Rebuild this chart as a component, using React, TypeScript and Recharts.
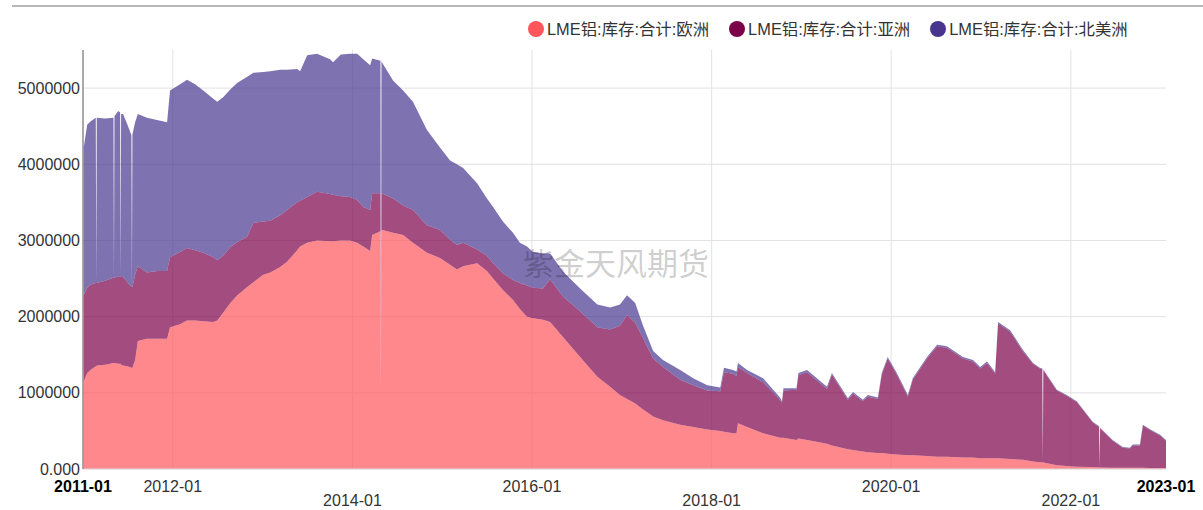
import React from 'react';
import { AreaChart, Area, XAxis, YAxis, CartesianGrid } from 'recharts';

const dates: string[] = [
  '2011-01-04','2011-01-18','2011-01-31','2011-02-22','2011-02-24','2011-02-26','2011-04-01','2011-05-05','2011-05-07','2011-05-09',
  '2011-05-24','2011-06-01','2011-06-03','2011-06-05','2011-06-13','2011-07-01','2011-07-17','2011-07-19','2011-07-21','2011-08-01',
  '2011-08-12','2011-09-18','2011-10-29','2011-12-09','2011-12-21','2012-01-31','2012-02-28','2012-04-01','2012-05-04','2012-06-14',
  '2012-06-30','2012-07-24','2012-08-22','2012-09-20','2012-10-30','2012-11-24','2013-01-03','2013-02-01','2013-03-13','2013-04-10',
  '2013-05-21','2013-06-02','2013-07-01','2013-08-10','2013-10-02','2013-10-14','2013-11-15','2013-12-22','2014-01-20','2014-02-14',
  '2014-03-14','2014-03-22','2014-04-25','2014-04-27','2014-04-29','2014-06-15','2014-07-26','2014-09-04','2014-10-31','2014-12-23',
  '2015-02-02','2015-03-02','2015-03-27','2015-05-23','2015-07-02','2015-07-27','2015-09-05','2015-10-16','2015-11-13','2015-12-12',
  '2016-01-05','2016-02-15','2016-03-15','2016-05-07','2016-07-15','2016-09-23','2016-11-14','2016-12-24','2017-01-22','2017-02-24',
  '2017-03-28','2017-05-08','2017-06-17','2017-08-26','2017-10-18','2017-12-14','2018-02-05','2018-02-20','2018-03-29','2018-04-12',
  '2018-04-18','2018-05-25','2018-07-29','2018-10-06','2018-10-14','2018-10-20','2018-12-12','2018-12-20','2019-01-24','2019-04-15',
  '2019-05-05','2019-07-09','2019-07-30','2019-09-08','2019-09-28','2019-11-08','2019-11-24','2019-12-18','2020-01-24','2020-03-09',
  '2020-03-29','2020-05-26','2020-07-06','2020-08-15','2020-10-19','2020-11-29','2020-12-28','2021-01-25','2021-02-27','2021-03-11',
  '2021-04-29','2021-06-21','2021-07-31','2021-08-28','2021-09-07','2021-09-09','2021-09-11','2021-11-05','2021-12-15','2022-01-25',
  '2022-03-31','2022-04-26','2022-04-28','2022-04-30','2022-06-20','2022-07-31','2022-08-29','2022-09-10','2022-10-09','2022-10-21',
  '2022-11-19','2022-12-30','2023-01-23',
];

const europe: number[] = [
  1150000,1260000,1300000,1350000,1350000,1360000,1370000,1390000,1390000,1390000,
  1380000,1380000,1380000,1370000,1360000,1350000,1330000,1330000,1330000,1430000,
  1680000,1710000,1710000,1710000,1860000,1900000,1950000,1950000,1940000,1930000,
  1950000,2050000,2180000,2280000,2390000,2450000,2550000,2580000,2650000,2720000,
  2870000,2920000,2970000,3000000,2990000,2990000,3000000,3000000,2970000,2920000,
  2860000,3070000,3120000,1060000,3140000,3100000,3070000,2970000,2840000,2770000,
  2680000,2620000,2660000,2700000,2600000,2500000,2350000,2220000,2100000,2000000,
  1980000,1960000,1930000,1730000,1470000,1210000,1080000,970000,920000,860000,
  780000,690000,640000,580000,550000,520000,500000,490000,470000,470000,
  600000,550000,470000,410000,410000,410000,380000,400000,380000,330000,
  310000,260000,250000,230000,220000,210000,210000,200000,190000,180000,
  180000,170000,160000,160000,150000,150000,140000,140000,140000,140000,
  130000,120000,100000,90000,90000,90000,85000,50000,40000,30000,
  25000,20000,20000,20000,15000,15000,15000,15000,15000,15000,
  12000,10000,10000,
];

const asia: number[] = [
  1130000,1120000,1120000,1090000,1090000,1080000,1100000,1120000,1120000,1120000,
  1150000,1150000,1150000,1150000,1160000,1100000,1060000,1060000,1060000,1120000,
  980000,870000,890000,890000,920000,950000,950000,920000,900000,850000,
  790000,750000,730000,700000,660000,780000,700000,680000,680000,680000,
  630000,600000,600000,640000,620000,610000,580000,570000,560000,520000,
  540000,550000,500000,0,480000,450000,390000,430000,360000,370000,
  330000,320000,310000,180000,200000,200000,220000,260000,340000,410000,
  400000,410000,560000,530000,600000,650000,750000,910000,1100000,1060000,
  940000,760000,700000,590000,550000,510000,520000,780000,780000,750000,
  740000,710000,670000,500000,460000,620000,660000,830000,890000,720000,
  930000,650000,740000,660000,730000,710000,1030000,1250000,1050000,770000,
  990000,1280000,1450000,1430000,1300000,1260000,1180000,1250000,1110000,1770000,
  1670000,1420000,1280000,1230000,1220000,0,1210000,980000,920000,850000,
  585000,530000,0,510000,355000,265000,255000,295000,295000,555000,
  500000,430000,360000,
];

const northAmerica: number[] = [
  1940000,2140000,2140000,2170000,0,2170000,2130000,2100000,0,2120000,
  2170000,2150000,0,2140000,2140000,2070000,1990000,0,2000000,2000000,
  2000000,2030000,1980000,1950000,2190000,2200000,2210000,2180000,2130000,2080000,
  2080000,2080000,2070000,2090000,2100000,1970000,1960000,1960000,1910000,1840000,
  1750000,1700000,1860000,1810000,1770000,1740000,1860000,1880000,1920000,1940000,
  1900000,1770000,1740000,0,1730000,1550000,1510000,1420000,1250000,1080000,
  1040000,1060000,980000,870000,750000,740000,680000,620000,530000,510000,
  470000,460000,340000,330000,300000,300000,290000,280000,260000,260000,
  160000,100000,90000,130000,90000,70000,50000,60000,50000,60000,
  50000,40000,50000,30000,20000,30000,20000,30000,30000,30000,
  20000,20000,20000,20000,20000,20000,20000,20000,20000,20000,
  20000,20000,20000,20000,20000,20000,20000,20000,20000,20000,
  20000,20000,10000,10000,10000,0,10000,10000,10000,10000,
  10000,10000,0,10000,10000,10000,10000,10000,10000,10000,
  10000,10000,10000,
];

const seriesNames: string[] = ['LME铝:库存:合计:欧洲', 'LME铝:库存:合计:亚洲', 'LME铝:库存:合计:北美洲'];
const seriesKeys: string[] = ['eu', 'as', 'na'];
const seriesColors: string[] = ['#FF565C', '#7B0048', '#48368E'];

const xTickLabels: string[] = ['2011-01-01', '2012-01-01', '2014-01-01', '2016-01-01', '2018-01-01', '2020-01-01', '2022-01-01'];
const xGridLabels: string[] = ['2012-01-01', '2014-01-01', '2016-01-01', '2018-01-01', '2020-01-01', '2022-01-01'];
const yTicks: number[] = [0, 1000000, 2000000, 3000000, 4000000, 5000000];
const yMax = 5500000;

const watermark = '紫金天风期货';

const data = dates.map((d, i) => ({
  t: Date.parse(d),
  eu: europe[i],
  as: asia[i],
  na: northAmerica[i],
}));

const tStart = Date.parse(xTickLabels[0]);
const tEnd = Date.parse(dates[dates.length - 1]);
const xTicks = [...xTickLabels.map((s) => Date.parse(s)), tEnd];
const xGrid = xGridLabels.map((s) => Date.parse(s));

const FONT = "'Liberation Sans', Arial, 'Noto Sans CJK SC', sans-serif";

const fmtDate = (v: number) => {
  const d = new Date(v);
  const m = d.getUTCMonth() + 1;
  return `${d.getUTCFullYear()}-${m < 10 ? '0' + m : m}`;
};

const XTick = (props: any) => {
  const { x, y, payload } = props;
  const i = xTicks.indexOf(payload.value);
  const edge = i === 0 || i === xTicks.length - 1;
  const row2 = !edge && i % 2 === 0;
  return (
    <text
      x={x}
      y={y + (row2 ? 37 : 23)}
      textAnchor="middle"
      fontSize={16}
      fontFamily={FONT}
      fontWeight={edge ? 'bold' : 'normal'}
      fill={edge ? '#000' : '#333'}
    >
      {fmtDate(payload.value)}
    </text>
  );
};

export default function App() {
  return (
    <div style={{ position: 'absolute', left: 0, top: 0, width: 1203, height: 510, background: '#fff', fontFamily: FONT }}>
      <div style={{ position: 'absolute', left: 12, right: 0, top: 5, height: 2, background: '#B8B8B8' }} />
      <AreaChart width={1203} height={510} data={data} margin={{ top: 50, right: 37, bottom: 0, left: 0 }}>
        <CartesianGrid stroke="#E2E2E2" verticalValues={xGrid} horizontalValues={yTicks} />
        <XAxis
          dataKey="t"
          type="number"
          scale="linear"
          domain={[tStart, tEnd]}
          ticks={xTicks}
          interval={0}
          tick={<XTick />}
          tickLine={false}
          tickSize={0}
          tickMargin={0}
          height={41}
          axisLine={{ stroke: '#DDDDDD' }}
          allowDataOverflow
        />
        <YAxis
          type="number"
          domain={[0, yMax]}
          ticks={yTicks}
          interval={0}
          width={83}
          tickLine={false}
          tickSize={0}
          tickMargin={3}
          axisLine={{ stroke: '#555' }}
          tick={{ fontSize: 16, fill: '#333', fontFamily: FONT }}
          tickFormatter={(v: number) => (v === 0 ? '0.000' : String(v))}
          allowDataOverflow
        />
        {seriesKeys.map((k, i) => (
          <Area
            key={k}
            type="linear"
            dataKey={k}
            name={seriesNames[i]}
            stackId="stock"
            stroke="none"
            fill={seriesColors[i]}
            fillOpacity={0.7}
            dot={false}
            activeDot={false}
            isAnimationActive={false}
          />
        ))}
      </AreaChart>
      <div
        style={{
          position: 'absolute',
          left: 523,
          top: 246,
          fontSize: 31,
          lineHeight: '31px',
          color: 'rgba(0,0,0,0.2)',
          fontFamily: "'Noto Sans CJK SC', sans-serif",
          pointerEvents: 'none',
          whiteSpace: 'nowrap',
        }}
      >
        {watermark}
      </div>
      <div style={{ position: 'absolute', left: 528, top: 19, display: 'flex', alignItems: 'center', height: 20 }}>
        {seriesNames.map((n, i) => (
          <div key={n} style={{ display: 'flex', alignItems: 'center', marginRight: 20 }}>
            <div style={{ width: 16, height: 16, borderRadius: 8, background: seriesColors[i], marginRight: 3 }} />
            <span style={{ fontSize: 16.4, lineHeight: '20px', color: '#333', whiteSpace: 'nowrap' }}>{n}</span>
          </div>
        ))}
      </div>
    </div>
  );
}
